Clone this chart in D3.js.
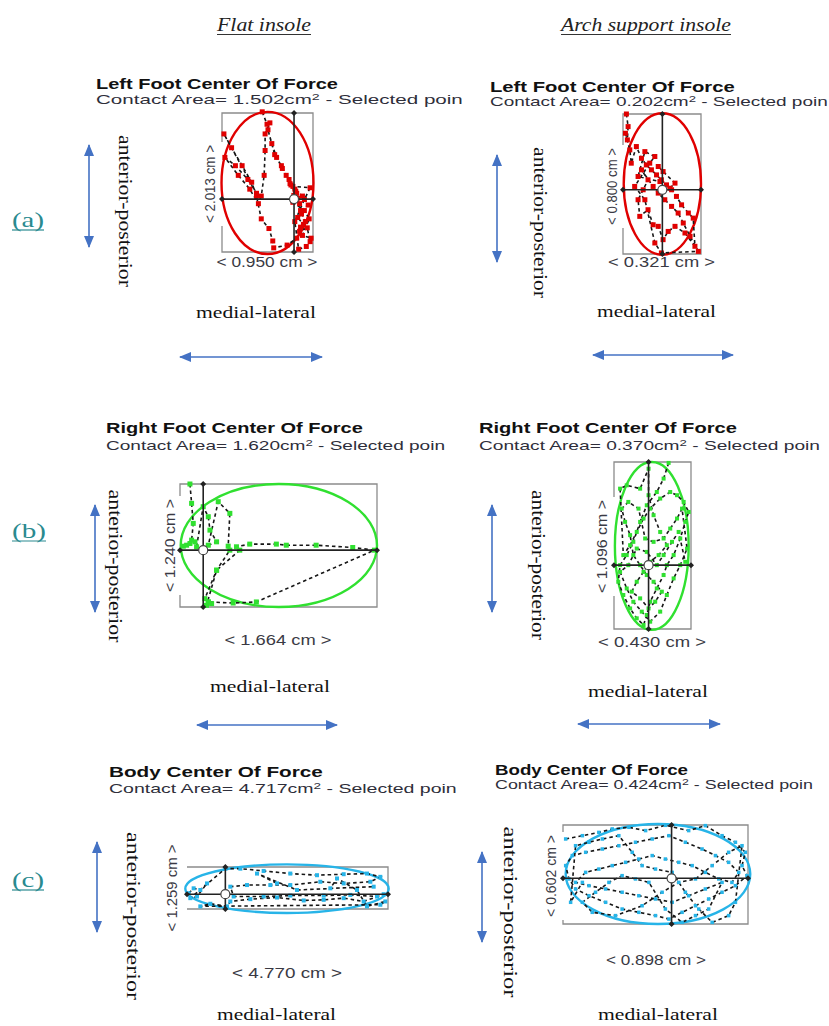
<!DOCTYPE html>
<html><head><meta charset="utf-8">
<script src="https://cdn.jsdelivr.net/npm/d3@7"></script>
<style>body{margin:0;background:#fff}svg{display:block}</style>
</head><body><svg id="c" width="829" height="1026"></svg>
<script>
// ---------------- data ----------------
const columnHeaders = ["Flat insole", "Arch support insole"];
const rowLabels = ["(a)", "(b)", "(c)"];
const panelTitles = ["Left Foot Center Of Force", "Left Foot Center Of Force",
  "Right Foot Center Of Force", "Right Foot Center Of Force",
  "Body Center Of Force", "Body Center Of Force"];
const contactAreas = ["1.502", "0.202", "1.620", "0.370", "4.717", "0.424"];
const apLabel = "anterior-posterior";
const mlLabel = "medial-lateral";
// sway ranges (cm): medial-lateral width, anterior-posterior height
const mlRanges = [0.950, 0.321, 1.664, 0.430, 4.770, 0.898];
const apRanges = [2.013, 0.800, 1.240, 1.096, 1.259, 0.602];
// selected point (cm, from lower-left of range box)
const selectedPoints = [[0.752, 0.766], [0.162, 0.367], [0.196, 0.573], [0.193, 0.419], [0.910, 0.443], [0.527, 0.278]];
// fitted ellipse: cx, cy, rx, ry (cm)
const ellipseFits = [[0.475, 1.00, 0.48, 1.03], [0.162, 0.40, 0.159, 0.404], [0.835, 0.620, 0.829, 0.620],
  [0.211, 0.545, 0.206, 0.551], [2.373, 0.610, 2.413, 0.728], [0.461, 0.304, 0.448, 0.304]];

// center-of-force trajectories (cm)
const leftFlatPath = [[0.42,2.03],[0.47,1.85],[0.50,1.87],[0.45,1.71],[0.45,1.47],[0.44,1.11],[0.41,0.81],[0.38,0.70],[0.29,0.91],[0.17,1.11],[0.03,1.37],[0.14,1.25],[0.27,1.05],[0.36,0.85],[0.02,1.71],[0.10,1.51],[0.21,1.25],[0.31,1.01],[0.36,0.81],[0.41,0.48],[0.49,0.34],[0.53,0.16],[0.54,0.06],[0.68,0.10],[0.78,0.20],[0.82,0.36],[0.87,0.44],[0.82,0.60],[0.90,0.68],[0.84,0.81],[0.76,0.91],[0.70,1.05],[0.63,1.21],[0.57,1.37],[0.52,1.57],[0.48,1.77],[0.55,1.41],[0.62,1.25],[0.67,1.11],[0.72,0.97],[0.78,0.85],[0.74,0.72],[0.86,0.60],[0.91,0.48],[0.84,0.24],[0.93,0.20],[0.88,0.08],[0.80,0.04],[0.76,0.44],[0.86,0.76],[0.92,0.93],[0.74,0.95],[0.77,0.88],[0.71,0.99],[0.79,0.78],[0.75,0.82],[0.81,0.70],[0.83,0.55],[0.79,0.50],[0.85,0.40],[0.81,0.30],[0.89,0.35],[0.92,0.15]];
const leftArchPath = [[0.014,0.800],[0.021,0.728],[0.018,0.652],[0.010,0.690],[0.028,0.595],[0.034,0.519],[0.055,0.614],[0.076,0.547],[0.096,0.509],[0.117,0.481],[0.138,0.452],[0.158,0.424],[0.179,0.395],[0.200,0.367],[0.220,0.329],[0.241,0.281],[0.269,0.234],[0.289,0.205],[0.296,0.044],[0.255,0.120],[0.214,0.158],[0.186,0.129],[0.165,0.082],[0.145,0.158],[0.124,0.167],[0.103,0.253],[0.069,0.215],[0.062,0.310],[0.083,0.367],[0.103,0.424],[0.076,0.481],[0.124,0.386],[0.145,0.348],[0.172,0.310],[0.200,0.272],[0.227,0.234],[0.248,0.177],[0.276,0.101],[0.310,0.015],[0.158,0.006],[0.131,0.063],[0.090,0.310],[0.048,0.386],[0.110,0.519],[0.131,0.557],[0.090,0.585],[0.062,0.443],[0.152,0.414],[0.193,0.376],[0.214,0.405],[0.165,0.471],[0.145,0.500]];
const rightFlatPath = [[0.084,1.240],[0.098,1.045],[0.112,0.843],[0.098,0.674],[0.056,0.623],[0.028,0.613],[0.084,0.640],[0.126,0.657],[0.140,0.607],[0.196,1.011],[0.239,0.910],[0.253,0.775],[0.309,0.657],[0.239,0.623],[0.323,1.062],[0.421,0.944],[0.407,0.613],[0.421,0.573],[0.309,0.371],[0.210,0.084],[0.239,0.051],[0.267,0.034],[0.224,0.017],[0.309,0.371],[0.505,0.573],[0.477,0.607],[0.589,0.634],[0.814,0.634],[0.898,0.623],[1.150,0.623],[1.459,0.600],[1.642,0.573],[0.645,0.051],[0.449,0.040],[0.239,0.051]];
const rightArchPath = [[0.305,1.090],[0.277,0.987],[0.239,0.899],[0.183,0.812],[0.146,0.703],[0.108,0.572],[0.071,0.485],[0.034,0.419],[0.024,0.310],[0.052,0.223],[0.090,0.135],[0.127,0.070],[0.165,0.026],[0.183,0.092],[0.202,0.179],[0.239,0.266],[0.277,0.354],[0.295,0.419],[0.333,0.485],[0.370,0.594],[0.398,0.703],[0.417,0.768],[0.389,0.834],[0.352,0.878],[0.314,0.899],[0.258,0.856],[0.202,0.790],[0.165,0.725],[0.127,0.637],[0.090,0.550],[0.052,0.485],[0.034,0.921],[0.071,0.943],[0.146,0.921],[0.193,1.052],[0.193,0.878],[0.221,0.747],[0.258,0.637],[0.295,0.550],[0.249,0.485],[0.202,0.441],[0.165,0.375],[0.127,0.310],[0.099,0.245],[0.146,0.201],[0.193,0.135],[0.230,0.179],[0.267,0.245],[0.221,0.310],[0.183,0.354],[0.146,0.419],[0.108,0.485],[0.090,0.616],[0.062,0.703],[0.043,0.790],[0.080,0.834],[0.137,0.790],[0.174,0.594],[0.221,0.572],[0.277,0.594],[0.314,0.659],[0.352,0.725],[0.380,0.790],[0.408,0.528],[0.370,0.419],[0.333,0.332],[0.295,0.223],[0.258,0.114],[0.202,0.048],[0.155,0.114],[0.108,0.179],[0.071,0.266],[0.034,0.375],[0.080,0.419],[0.127,0.528],[0.183,0.506],[0.239,0.419],[0.277,0.485],[0.324,0.572],[0.361,0.637],[0.398,0.441]];
const bodyFlatPath = [[0.040,0.472],[0.158,0.620],[0.316,0.570],[0.475,0.767],[0.237,0.374],[0.079,0.325],[0.910,1.210],[1.266,1.210],[1.819,1.141],[2.452,1.062],[3.085,1.013],[3.718,1.043],[4.271,1.062],[4.588,0.964],[4.351,0.816],[3.718,0.767],[3.164,0.816],[2.452,0.718],[1.978,0.718],[1.424,0.718],[1.028,0.669],[1.107,0.374],[1.819,0.374],[2.452,0.403],[3.243,0.403],[3.876,0.423],[4.509,0.374],[4.667,0.443],[4.192,0.226],[3.718,0.325],[3.243,0.275],[2.769,0.256],[2.136,0.344],[1.503,0.295],[1.028,0.226],[0.949,0.079],[0.554,0.157],[0.316,0.079],[4.588,0.128],[4.706,0.226],[4.271,0.079],[4.034,0.570],[3.560,0.915],[3.401,0.620],[4.430,0.669],[2.610,0.570],[1.661,1.062],[2.136,0.767]];
const bodyArchPath = [[0.013,0.517],[0.094,0.537],[0.174,0.557],[0.239,0.578],[0.320,0.588],[0.401,0.568],[0.497,0.600],[0.610,0.568],[0.691,0.598],[0.772,0.537],[0.837,0.497],[0.885,0.436],[0.869,0.355],[0.893,0.294],[0.837,0.233],[0.772,0.193],[0.707,0.152],[0.643,0.111],[0.578,0.071],[0.514,0.030],[0.449,0.051],[0.368,0.071],[0.287,0.091],[0.207,0.132],[0.126,0.172],[0.061,0.213],[0.029,0.274],[0.013,0.355],[0.045,0.416],[0.110,0.436],[0.191,0.456],[0.271,0.476],[0.352,0.497],[0.433,0.517],[0.514,0.537],[0.594,0.497],[0.675,0.456],[0.740,0.416],[0.804,0.375],[0.853,0.314],[0.820,0.253],[0.756,0.274],[0.691,0.314],[0.627,0.355],[0.562,0.375],[0.497,0.395],[0.433,0.416],[0.368,0.395],[0.304,0.375],[0.239,0.355],[0.174,0.334],[0.110,0.314],[0.061,0.253],[0.126,0.233],[0.207,0.213],[0.287,0.193],[0.368,0.172],[0.449,0.152],[0.530,0.132],[0.610,0.172],[0.691,0.213],[0.772,0.253],[0.707,0.091],[0.643,0.051],[0.578,0.010],[0.497,0.091],[0.417,0.253],[0.352,0.274],[0.287,0.294],[0.223,0.253],[0.158,0.193],[0.094,0.132],[0.142,0.071],[0.255,0.051],[0.384,0.111],[0.481,0.193],[0.562,0.253],[0.643,0.274],[0.724,0.355],[0.804,0.436],[0.869,0.476],[0.837,0.132],[0.804,0.051],[0.724,0.010],[0.659,0.091],[0.594,0.193],[0.530,0.314],[0.449,0.334],[0.384,0.355],[0.336,0.436],[0.271,0.537],[0.191,0.517],[0.126,0.497],[0.061,0.476],[0.037,0.132],[0.094,0.253]];
const paths = [leftFlatPath, leftArchPath, rightFlatPath, rightArchPath, bodyFlatPath, bodyArchPath];

// ---------------- layout / style ----------------
const colors = ["#e00000", "#e00000", "#30e030", "#30e030", "#27b4e8", "#27b4e8"];
const markerSize = [5, 5, 5, 4, 4, 3.5];
const layout = [
  {box:[222,113,313,252], title:[96,88.5,242], sub:[96,103.5,367], vlab:[210,184,78], hlab:[267,267,101], ap:[125.5,211,152], vArrow:[89,145,247], ml:[256,318,120], hArrow:[180,322,357]},
  {box:[623,114,701,254], title:[490,91.5,245], sub:[490,106,338], vlab:[611.5,186.5,77], hlab:[661.5,267,107], ap:[540,222.5,151], vArrow:[497,155,262], ml:[656.5,317,119], hArrow:[593,733,355]},
  {box:[180,484,377,607], title:[106,433,257], sub:[106,450,339], vlab:[170,545.5,93], hlab:[278,645,107], ap:[115,566,153], vArrow:[95,505,612], ml:[270,692,120], hArrow:[197,337,725]},
  {box:[614,462,691,629], title:[479,433,258], sub:[479,450,341], vlab:[601.5,546.5,93], hlab:[652,646.5,108], ap:[538,565,150], vArrow:[492,505,612], ml:[648,697,120], hArrow:[578,720,724]},
  {box:[187,867,388,909], title:[109,777,214], sub:[109,793,348], vlab:[171,888,87], hlab:[287,978,110], ap:[133,916,168], vArrow:[97,842,932], ml:[276.5,1020,119], hArrow:null},
  {box:[563,825,748,924], title:[495,775,193], sub:[495,789,318], vlab:[551,876,82], hlab:[656,965,100], ap:[510,912,171], vArrow:[482,852,942], ml:[658,1020,120], hArrow:null}
];
const headerPos = [[217,31,94],[561,31,170]];
const rowPos = [[12,227,32],[12,538,34],[12,887,32]];
const arrowColor = "#4472c4";
const sans = "'Liberation Sans', Arial, sans-serif";
const serif = "'Liberation Serif', 'Times New Roman', serif";

const svg = d3.select("#c");
const defs = svg.append("defs");
defs.append("marker").attr("id","ah").attr("viewBox","0 0 12 10").attr("refX",11).attr("refY",5)
  .attr("markerWidth",12).attr("markerHeight",10).attr("markerUnits","userSpaceOnUse")
  .attr("orient","auto-start-reverse")
  .append("path").attr("d","M0,0 L12,5 L0,10 Z").attr("fill",arrowColor);

// fit helper: scale text horizontally (in its own frame) to a target length
function placeText(parent, build, opts) {
  const t = parent.append("text").attr("x",0).attr("y",0);
  build(t);
  const w = t.node().getComputedTextLength();
  const s = opts.len ? opts.len / w : 1;
  t.attr("transform", `translate(${opts.x},${opts.y})` + (opts.rot ? ` rotate(${opts.rot})` : "") + ` scale(${s},1)`);
  return t;
}

// headers
columnHeaders.forEach((h, i) => {
  const [x, y, len] = headerPos[i];
  placeText(svg, t => t.text(h).attr("font-family", serif).attr("font-style","italic").attr("font-size",19).attr("fill","#222"), {x, y, len});
  svg.append("line").attr("x1",x).attr("x2",x+len).attr("y1",y+3.5).attr("y2",y+3.5).attr("stroke","#333").attr("stroke-width",1.2);
});
rowLabels.forEach((r, i) => {
  const [x, y, len] = rowPos[i];
  placeText(svg, t => t.text(r).attr("font-family", serif).attr("font-size",22).attr("fill","#2a8a8f"), {x, y, len});
  svg.append("line").attr("x1",x).attr("x2",x+len).attr("y1",y+3).attr("y2",y+3).attr("stroke","#2a8a8f").attr("stroke-width",1.2);
});

paths.forEach((pts, i) => {
  const L = layout[i];
  const [x0, y0, x1, y1] = L.box;
  const g = svg.append("g");
  const x = d3.scaleLinear().domain([0, mlRanges[i]]).range([x0, x1]);
  const y = d3.scaleLinear().domain([0, apRanges[i]]).range([y1, y0]);

  // titles
  placeText(g, t => t.text(panelTitles[i]).attr("font-family", sans).attr("font-weight","bold").attr("font-size",14).attr("fill","#111"),
    {x: L.title[0], y: L.title[1], len: L.title[2]});
  placeText(g, t => {
    t.attr("font-family", sans).attr("font-size",13).attr("fill","#2e2e3a");
    t.append("tspan").text(`Contact Area= ${contactAreas[i]}cm`);
    t.append("tspan").text("2").attr("font-size",9).attr("dy",-4);
    t.append("tspan").text(" - Selected poin").attr("dy",4);
  }, {x: L.sub[0], y: L.sub[1], len: L.sub[2]});

  // box with gap on left for label
  const [vx, vy, vlen] = L.vlab;
  const gTop = Math.max(y0, vy - vlen/2 - 3), gBot = Math.min(y1, vy + vlen/2 + 3);
  let d = `M${x0},${gTop} L${x0},${y0} L${x1},${y0} L${x1},${y1} L${x0},${y1} L${x0},${gBot}`;
  g.append("path").attr("d", d).attr("fill","none").attr("stroke","#8c8c8c").attr("stroke-width",1.3);

  // ellipse
  const [ecx, ecy, erx, ery] = ellipseFits[i];
  g.append("ellipse").attr("cx", x(ecx)).attr("cy", y(ecy))
    .attr("rx", x(erx) - x(0)).attr("ry", y(0) - y(ery))
    .attr("fill","none").attr("stroke", colors[i]).attr("stroke-width",2.4);

  // trajectory
  const line = d3.line().x(p => x(p[0])).y(p => y(p[1]));
  g.append("path").attr("d", line(pts)).attr("fill","none").attr("stroke","#161616")
    .attr("stroke-width",1.6).attr("stroke-dasharray","3.5,3");
  const ms = markerSize[i];
  g.selectAll("rect.pt").data(pts).join("rect").attr("class","pt")
    .attr("x", p => x(p[0]) - ms/2).attr("y", p => y(p[1]) - ms/2)
    .attr("width", ms).attr("height", ms).attr("fill", colors[i]);

  // crosshair
  const [sx, sy] = selectedPoints[i];
  g.append("line").attr("x1", x0).attr("x2", x1).attr("y1", y(sy)).attr("y2", y(sy)).attr("stroke","#222").attr("stroke-width",1.6);
  g.append("line").attr("x1", x(sx)).attr("x2", x(sx)).attr("y1", y0).attr("y2", y1).attr("stroke","#222").attr("stroke-width",1.6);
  [[x0, y(sy)], [x1, y(sy)], [x(sx), y0], [x(sx), y1]].forEach(([px, py]) => {
    g.append("path").attr("d", `M${px-3},${py} L${px},${py-3} L${px+3},${py} L${px},${py+3} Z`).attr("fill","#222");
  });
  g.append("circle").attr("cx", x(sx)).attr("cy", y(sy)).attr("r", 4.5).attr("fill","#fff").attr("stroke","#444").attr("stroke-width",1.2);

  // range labels
  placeText(g, t => t.text(`< ${apRanges[i].toFixed(3)} cm >`).attr("font-family", sans).attr("font-size",15).attr("fill","#3a3a44")
    .attr("text-anchor","middle").attr("dominant-baseline","central"), {x: vx, y: vy, len: vlen, rot: -90});
  placeText(g, t => t.text(`< ${mlRanges[i].toFixed(3)} cm >`).attr("font-family", sans).attr("font-size",14).attr("fill","#3a3a44")
    .attr("text-anchor","middle"), {x: L.hlab[0], y: L.hlab[1], len: L.hlab[2]});

  // direction annotations
  placeText(g, t => t.text(apLabel).attr("font-family", serif).attr("font-size",18).attr("fill","#111")
    .attr("text-anchor","middle").attr("dominant-baseline","central"), {x: L.ap[0], y: L.ap[1], len: L.ap[2], rot: 90});
  placeText(g, t => t.text(mlLabel).attr("font-family", serif).attr("font-size",16).attr("fill","#111")
    .attr("text-anchor","middle"), {x: L.ml[0], y: L.ml[1], len: L.ml[2]});
  const [ax, ay0, ay1] = L.vArrow;
  g.append("line").attr("x1", ax).attr("x2", ax).attr("y1", ay0).attr("y2", ay1).attr("stroke", arrowColor).attr("stroke-width",1.6)
    .attr("marker-start","url(#ah)").attr("marker-end","url(#ah)");
  if (L.hArrow) {
    const [hx0, hx1, hy] = L.hArrow;
    g.append("line").attr("x1", hx0).attr("x2", hx1).attr("y1", hy).attr("y2", hy).attr("stroke", arrowColor).attr("stroke-width",1.6)
      .attr("marker-start","url(#ah)").attr("marker-end","url(#ah)");
  }
});
</script></body></html>
